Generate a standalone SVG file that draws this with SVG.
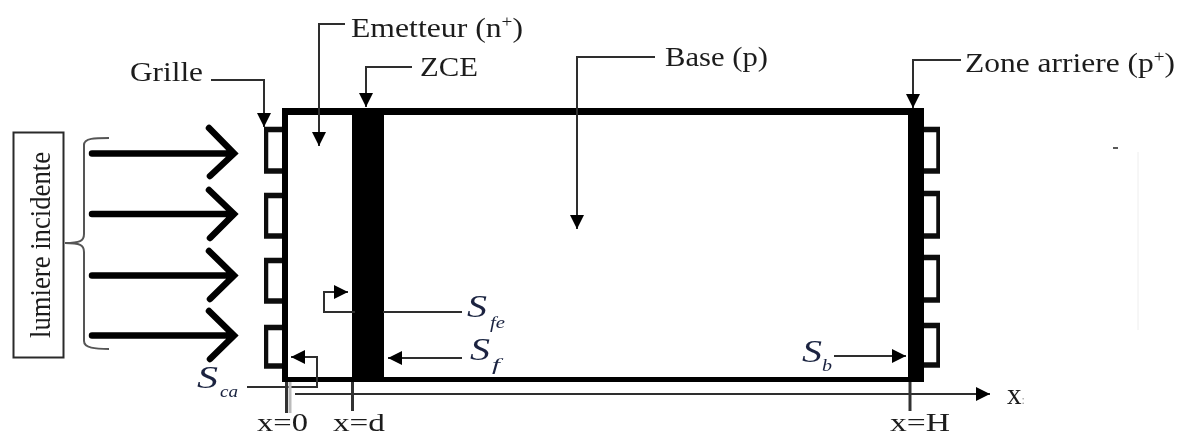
<svg xmlns="http://www.w3.org/2000/svg" width="1182" height="437" viewBox="0 0 1182 437">
<style>
g{filter:url(#b)}
text{font-family:"Liberation Serif","Times New Roman",serif;fill:#1c1c1c}
.l{font-size:28px}
.v{font-size:25px}
.s{font-size:32px;font-style:italic;fill:#1a2440}
.sub{font-size:17px;font-style:italic;fill:#1a2440}
.c{fill:none;stroke:#2e2e2e;stroke-width:2}
.t{fill:none;stroke:#333;stroke-width:3}
.a{fill:none;stroke:#2e2e2e;stroke-width:2;marker-end:url(#ah)}
.g{fill:none;stroke:#0c0c0c;stroke-width:5.500}
.r{fill:none;stroke:#000;stroke-width:6.500;stroke-linecap:round;stroke-linejoin:miter}
</style>
<defs>
<filter id="b" x="-5%" y="-5%" width="110%" height="110%"><feGaussianBlur stdDeviation="0.5"/></filter>
<marker id="ah" markerUnits="userSpaceOnUse" markerWidth="15" markerHeight="14" refX="14" refY="7" orient="auto"><path d="M0 0L14 7L0 14Z" fill="#000"/></marker>
</defs>
<rect width="1182" height="437" fill="#fff"/>
<g id="cellule">
<path fill="#000" d="M282 108H924V382H282ZM288 115V377H352V115ZM384 115V377H908V115Z" fill-rule="evenodd"/>
</g>
<g id="grille-avant">
<path class="g" d="M282 129.500H265.500V171H282M282 195.500H265.500V236H282M282 260.500H265.500V301H282M282 327.500H265.500V366H282"/>
</g>
<g id="grille-arriere">
<path class="g" d="M924 129.500H939V171H924M924 193.500H939V236H924M924 257.500H939V300H924M924 325.500H939V365H924"/>
</g>
<g id="lumiere">
<rect x="13.500" y="132.500" width="50" height="225" fill="#fff" stroke="#2a2a2a" stroke-width="2"/>
<text class="v" transform="translate(50 245) rotate(-90) scale(1 1.2)" text-anchor="middle" textLength="186" lengthAdjust="spacingAndGlyphs">lumiere incidente</text>
<path d="M109 138C95 138 84 138 84 145V234C84 241 80 243 65 243C80 243 84 245 84 252V341C84 348 95 349 109 349" fill="none" stroke="#555" stroke-width="2"/>
</g>
<g id="fleches-lumiere">
<path class="r" d="M92 153.500H232M209 128L234 153.500L210 176"/>
<path class="r" d="M92 214H232M209 190L234 214L210 238"/>
<path class="r" d="M92 275.500H232M209 251L234 275.500L210 299"/>
<path class="r" d="M92 335.500H232M209 311L234 335.500L210 359"/>
</g>
<g id="connecteurs">
<path class="a" d="M345 24H319V146"/>
<path class="a" d="M412 67H366V107"/>
<path class="a" d="M655 57H577V229"/>
<path class="a" d="M961 60H913V108"/>
<path class="a" d="M211 80H264V127"/>
<path class="a" d="M462 358H388"/>
<path class="a" d="M834 356H906"/>
<path class="a" d="M247 387H317V357H291"/>
<path class="a" d="M355 312H324V292H348"/>
<path class="c" d="M383 312H462"/>
<path class="a" d="M295 394H990"/>
<path class="t" d="M286.500 382V413"/>
<path class="t" d="M290 382V413" style="stroke:#bbb"/>
<path class="t" d="M352.500 382V411"/>
<path class="t" d="M910 382V411"/>
</g>
<g id="labels">
<text class="l" x="351" y="37" textLength="172" lengthAdjust="spacingAndGlyphs">Emetteur (n<tspan dy="-10" font-size="17">+</tspan><tspan dy="10">)</tspan></text>
<text class="l" x="420" y="76" textLength="58" lengthAdjust="spacingAndGlyphs">ZCE</text>
<text class="l" x="665" y="66" textLength="103" lengthAdjust="spacingAndGlyphs">Base (p)</text>
<text class="l" x="965" y="72" textLength="210" lengthAdjust="spacingAndGlyphs">Zone arriere (p<tspan dy="-10" font-size="17">+</tspan><tspan dy="10">)</tspan></text>
<text class="l" x="130" y="81" textLength="73" lengthAdjust="spacingAndGlyphs">Grille</text>
<text class="s" x="467" y="317" textLength="20" lengthAdjust="spacingAndGlyphs">S</text><text class="sub" x="490" y="328" textLength="15" lengthAdjust="spacingAndGlyphs">fe</text>
<text class="s" x="470" y="360" textLength="20" lengthAdjust="spacingAndGlyphs">S</text><text class="sub" x="492" y="370" textLength="8" lengthAdjust="spacingAndGlyphs">f</text>
<text class="s" x="802" y="362" textLength="20" lengthAdjust="spacingAndGlyphs">S</text><text class="sub" x="822" y="371" textLength="10" lengthAdjust="spacingAndGlyphs">b</text>
<text class="s" x="197" y="388" textLength="21" lengthAdjust="spacingAndGlyphs">S</text><text class="sub" x="220" y="397" textLength="18" lengthAdjust="spacingAndGlyphs">ca</text>
<text class="v" x="257" y="431" textLength="51" lengthAdjust="spacingAndGlyphs">x=0</text>
<text class="v" x="333" y="431" textLength="52" lengthAdjust="spacingAndGlyphs">x=d</text>
<text class="v" x="890" y="431" textLength="60" lengthAdjust="spacingAndGlyphs">x=H</text>
<text x="1007" y="404" font-size="29">x<tspan font-size="12" fill="#999">:</tspan></text>
</g>
<g id="traces">
<path d="M1113 148H1118" stroke="#222" stroke-width="1.500"/>
<path d="M1138 152V330" stroke="#eee" stroke-width="1"/>
</g>
</svg>
